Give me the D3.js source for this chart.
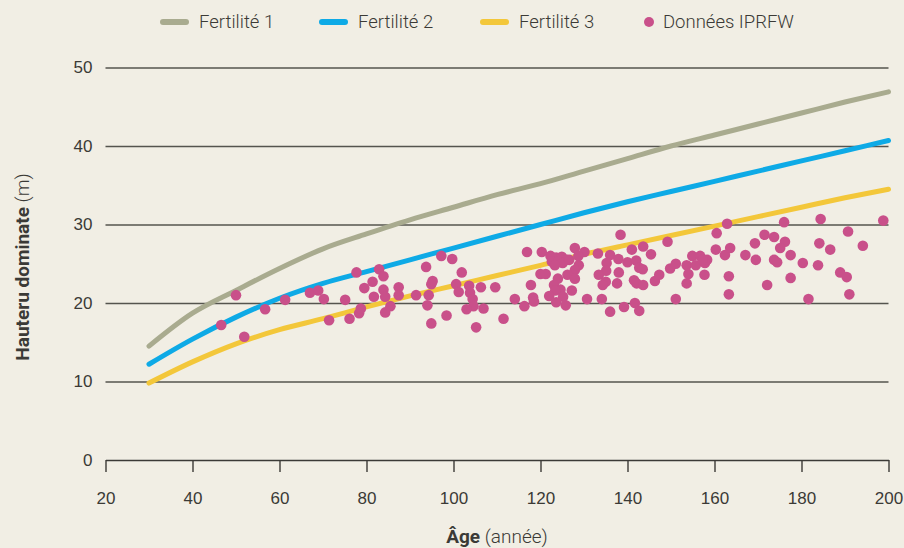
<!DOCTYPE html>
<html>
<head>
<meta charset="utf-8">
<script src="https://cdn.jsdelivr.net/npm/d3@7"></script>
<style>
  html, body { margin: 0; padding: 0; background: #f1eee4; }
  svg { display: block; font-family: Roboto, "Noto Sans", sans-serif; }
</style>
</head>
<body>
<svg id="chart" width="904" height="548"></svg>
<script>
// curve ages and heights per fertility class
var ages = [30, 40, 50, 60, 70, 80, 90, 100, 110, 120, 130, 140, 150, 160, 170, 180, 190, 200];
var fert1 = [14.5, 18.7, 21.6, 24.4, 26.9, 28.8, 30.6, 32.2, 33.8, 35.2, 36.8, 38.4, 40.0, 41.4, 42.8, 44.2, 45.6, 46.9];
var fert2 = [12.2, 15.4, 18.2, 20.6, 22.5, 24.0, 25.5, 27.0, 28.5, 30.0, 31.5, 32.9, 34.2, 35.5, 36.8, 38.1, 39.4, 40.7];
var fert3 = [9.8, 12.5, 14.8, 16.6, 18.0, 19.5, 20.9, 22.2, 23.5, 24.8, 26.2, 27.4, 28.6, 29.8, 31.0, 32.2, 33.4, 34.5];

// IPRFW plots: age, dominant height
var ptAge = [46.6, 50.0, 51.9, 56.7, 61.3, 67.0, 68.9, 70.2, 71.4, 75.1, 76.1, 77.7, 78.3, 78.7, 79.5, 81.4, 81.7, 82.9, 83.9, 83.9,
  84.3, 84.3, 85.5, 87.4, 87.4, 91.4, 93.7, 94.3, 94.0, 95.2, 94.9, 94.9, 97.2, 99.7, 98.4, 101.9, 100.6, 101.2, 103.6, 103.8,
  104.4, 104.6, 103.0, 105.2, 106.3, 106.9, 109.6, 111.5, 114.1, 116.3, 116.9, 117.8, 118.3, 118.5, 120.3, 120.0, 121.2, 122.3, 123.6, 124.9,
  125.9, 122.6, 124.1, 125.1, 123.3, 126.6, 127.9, 130.1, 128.7, 128.8, 127.9, 126.2, 127.9, 124.0, 123.1, 124.6, 123.4, 122.0, 127.2, 125.2,
  123.6, 125.8, 130.7, 134.1, 136.0, 133.2, 136.0, 135.2, 135.1, 133.4, 135.0, 134.3, 137.9, 138.4, 138.0, 137.6, 141.0, 143.6, 145.4, 149.2,
  140.0, 142.0, 142.7, 143.5, 141.5, 142.1, 143.6, 146.3, 147.3, 139.2, 141.7, 142.7, 149.8, 151.1, 153.6, 154.0, 153.6, 151.1, 154.9, 156.7,
  155.7, 157.8, 158.3, 157.3, 157.7, 160.3, 160.5, 162.4, 163.6, 162.9, 163.3, 163.3, 167.1, 169.3, 169.5, 176.0, 184.4, 198.8, 171.5, 173.7,
  176.2, 175.1, 173.7, 174.4, 177.5, 180.3, 183.8, 184.1, 186.6, 190.7, 194.1, 188.9, 190.4, 177.5, 172.1, 181.6, 191.0];
var ptHeight = [17.2, 21.0, 15.7, 19.2, 20.4, 21.3, 21.6, 20.5, 17.8, 20.4, 18.0, 23.9, 18.7, 19.3, 21.9, 22.7, 20.8, 24.3, 23.4, 21.7,
  20.8, 18.8, 19.6, 22.0, 21.0, 21.0, 24.6, 21.0, 19.7, 22.8, 22.4, 17.4, 26.0, 25.6, 18.4, 23.9, 22.4, 21.4, 22.2, 21.3,
  20.5, 19.6, 19.2, 16.9, 22.0, 19.3, 22.0, 18.0, 20.5, 19.6, 26.5, 22.3, 20.7, 20.2, 26.5, 23.7, 23.7, 26.0, 25.8, 25.9,
  25.5, 25.3, 25.3, 25.1, 24.8, 25.5, 27.0, 26.5, 26.0, 24.8, 24.2, 23.6, 23.1, 23.1, 22.3, 21.7, 21.6, 20.9, 21.6, 20.8,
  20.1, 19.7, 20.5, 20.5, 18.9, 26.3, 26.1, 25.1, 24.1, 23.6, 22.7, 22.3, 25.6, 28.7, 23.9, 22.5, 26.8, 27.2, 26.2, 27.8,
  25.2, 25.4, 24.5, 24.3, 22.9, 22.5, 22.3, 22.8, 23.6, 19.5, 20.0, 19.0, 24.4, 25.0, 24.8, 23.7, 22.5, 20.5, 26.0, 26.0,
  24.8, 25.1, 25.5, 25.5, 23.6, 26.8, 28.9, 26.1, 27.0, 30.1, 23.4, 21.1, 26.1, 27.6, 25.5, 30.3, 30.7, 30.5, 28.7, 28.4,
  27.8, 27.0, 25.5, 25.2, 26.1, 25.1, 24.8, 27.6, 26.8, 29.1, 27.3, 23.9, 23.3, 23.2, 22.3, 20.5, 21.1];

var xTicks = [20, 40, 60, 80, 100, 120, 140, 160, 180, 200];
var yTicks = [0, 10, 20, 30, 40, 50];
var seriesNames = ["Fertilité 1", "Fertilité 2", "Fertilité 3"];
var seriesColors = ["#a9ab8f", "#0eaae6", "#f3c73a"];
var dotColor = "#c9508a";
var textColor = "#3b3a36";

var svg = d3.select("#chart");

var x = d3.scaleLinear().domain([20, 200]).range([105.5, 888.5]);
var y = d3.scaleLinear().domain([0, 50]).range([460, 67.5]);

// horizontal grid + y labels
var yAxis = svg.append("g")
  .attr("transform", "translate(105.5,0)")
  .call(d3.axisLeft(y).tickValues(yTicks).tickSize(-(888.5 - 105.5)).tickPadding(13));
yAxis.select(".domain").remove();
yAxis.selectAll(".tick line")
  .attr("stroke", "#55544e")
  .attr("stroke-width", 1.6)
  .filter(function(d) { return d === 0; }).remove();
yAxis.selectAll(".tick text")
  .attr("fill", textColor)
  .attr("font-size", 17)
  .attr("font-weight", 300);

// bottom axis
var xAxis = svg.append("g")
  .attr("transform", "translate(0,460)")
  .call(d3.axisBottom(x).tickValues(xTicks).tickSize(12).tickPadding(20).tickSizeOuter(0));
xAxis.select(".domain").attr("stroke", "#3b3a36").attr("stroke-width", 1.6);
xAxis.selectAll(".tick line").attr("stroke", "#3b3a36").attr("stroke-width", 1.4);
xAxis.selectAll(".tick text")
  .attr("fill", textColor)
  .attr("font-size", 17)
  .attr("font-weight", 300);

// curves
var line = d3.line()
  .x(function(d) { return x(d[0]); })
  .y(function(d) { return y(d[1]); })
  .curve(d3.curveMonotoneX);

[fert1, fert2, fert3].forEach(function(vals, i) {
  svg.append("path")
    .datum(ages.map(function(a, j) { return [a, vals[j]]; }))
    .attr("fill", "none")
    .attr("stroke", seriesColors[i])
    .attr("stroke-width", 5)
    .attr("stroke-linecap", "round")
    .attr("stroke-linejoin", "round")
    .attr("d", line);
});

// field data dots
svg.append("g").selectAll("circle")
  .data(ptAge.map(function(a, i) { return [a, ptHeight[i]]; }))
  .enter().append("circle")
  .attr("cx", function(d) { return x(d[0]); })
  .attr("cy", function(d) { return y(d[1]); })
  .attr("r", 5.3)
  .attr("fill", dotColor);

// legend
var legend = svg.append("g").attr("transform", "translate(0,22)");
var legX = [160, 319, 480];
seriesNames.forEach(function(name, i) {
  legend.append("line")
    .attr("x1", legX[i] + 3).attr("x2", legX[i] + 26)
    .attr("y1", 0).attr("y2", 0)
    .attr("stroke", seriesColors[i])
    .attr("stroke-width", 6)
    .attr("stroke-linecap", "round");
  legend.append("text")
    .attr("x", legX[i] + 39).attr("y", 0).attr("dy", "0.35em")
    .attr("fill", textColor)
    .attr("font-size", 18.5)
    .attr("font-weight", 300)
    .text(name);
});
legend.append("circle").attr("cx", 649).attr("cy", 0).attr("r", 5).attr("fill", dotColor);
legend.append("text")
  .attr("x", 663).attr("y", 0).attr("dy", "0.35em")
  .attr("fill", textColor)
  .attr("font-size", 18.5)
  .attr("font-weight", 300)
  .text("Données IPRFW");

// axis titles
var xt = svg.append("text")
  .attr("x", 497).attr("y", 536).attr("dy", "0.35em")
  .attr("text-anchor", "middle")
  .attr("fill", textColor)
  .attr("font-size", 19);
xt.append("tspan").attr("font-weight", 700).text("Âge");
xt.append("tspan").attr("font-weight", 300).text(" (année)");

var yt = svg.append("text")
  .attr("transform", "translate(22,267) rotate(-90)")
  .attr("dy", "0.35em")
  .attr("text-anchor", "middle")
  .attr("fill", textColor)
  .attr("font-size", 19);
yt.append("tspan").attr("font-weight", 700).text("Hauteru dominate");
yt.append("tspan").attr("font-weight", 300).text(" (m)");
</script>
</body>
</html>
